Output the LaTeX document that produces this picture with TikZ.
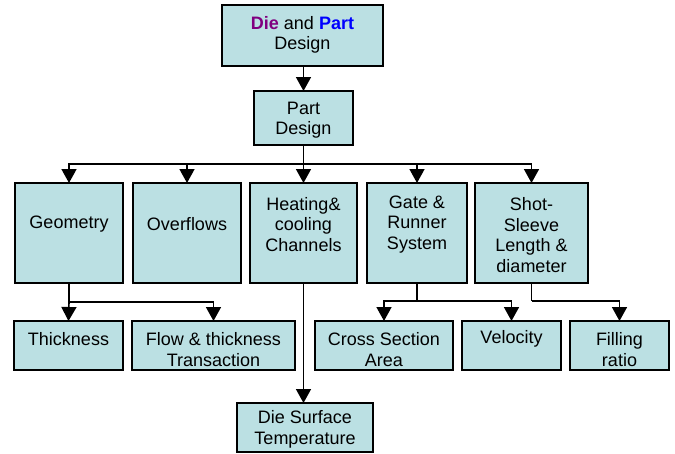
\documentclass[tikz,border=0pt]{standalone}
\usepackage{fontspec}
\setmainfont{Liberation Sans}
\usetikzlibrary{arrows.meta}
\definecolor{boxfill}{RGB}{187,224,227}
\definecolor{diecol}{RGB}{128,0,128}
\definecolor{partcol}{RGB}{0,0,255}
\newcommand\mkbox[5]{%
  \node[box, minimum width={#4-#2}, minimum height={#5-#3}] (#1) at ({(#2+#4)/2},{(#3+#5)/2}) {};}
\begin{document}
\begin{tikzpicture}[x=1pt,y=-1pt,
  box/.style={draw=black, fill=boxfill, line width=1.3pt, inner sep=0pt, outer sep=0pt},
  txt/.style={align=center, inner sep=0pt, font=\fontsize{18}{20.5}\selectfont},
  conn/.style={line width=1.6pt},
  arr/.style={conn, -{Triangle[width=15pt,length=14pt]}}]
\useasboundingbox (0,0) rectangle (675,453);

% boxes
\mkbox{top}{222}{5}{383}{66}
\mkbox{part}{254}{91}{353}{145}
\mkbox{geo}{15}{183}{123}{283}
\mkbox{over}{133}{183}{241}{283}
\mkbox{heat}{250}{183}{357}{283}
\mkbox{gate}{367}{183}{467}{283}
\mkbox{shot}{475}{183}{588}{283}
\mkbox{thick}{14}{321}{123}{370}
\mkbox{flow}{132}{321}{295}{370}
\mkbox{cross}{315}{321}{453}{370}
\mkbox{velo}{462}{321}{561}{370}
\mkbox{fill}{570}{321}{669}{370}
\mkbox{surf}{237}{403}{373}{452}

% labels
\node[txt] (top-t) at (302.5,35) {\textbf{\color{diecol}Die} and \textbf{\color{partcol}Part}\\Design};
\node[txt] (part-t) at (303.5,120) {Part\\Design};
\node[txt] (geo-t) at (69,224) {Geometry};
\node[txt] (over-t) at (187,224) {Overflows};
\node[txt] (heat-t) at (303.5,224.5) {Heating\&\\cooling\\Channels};
\node[txt] (gate-t) at (417,224.5) {Gate \&\\Runner\\System};
\node[txt] (shot-t) at (531.5,235) {Shot-\\Sleeve\\Length \&\\diameter};
\node[txt] (thick-t) at (68.5,339) {Thickness};
\node[txt] (flow-t) at (213.5,349.5) {Flow \& thickness\\Transaction};
\node[txt] (cross-t) at (384,349.5) {Cross Section\\Area};
\node[txt] (velo-t) at (511.5,339) {Velocity};
\node[txt] (fill-t) at (619.5,349.5) {Filling\\ratio};
\node[txt] (surf-t) at (305,429.5) {Die Surface\\Temperature};

% junction points
\coordinate (j1) at (303.5,164);
\coordinate (j2) at (69,302);
\coordinate (j3) at (417,301);
\coordinate (j4) at (531.5,301);

% connectors
\draw[arr] (top.south -| part.north) -- (part.north);
\draw[conn] (part.south) -- (j1);
\draw[arr] (j1) -| (geo.north);
\draw[arr] (j1) -| (over.north);
\draw[arr] (j1) -- (heat.north);
\draw[arr] (j1) -| (gate.north);
\draw[arr] (j1) -| (shot.north);
\draw[conn] (geo.south) -- (j2);
\draw[arr] (j2) -- (thick.north);
\draw[arr] (j2) -| (flow.north);
\draw[arr] (heat.south) -- (heat.south |- surf.north);
\draw[conn] (gate.south) -- (j3);
\draw[arr] (j3) -| (cross.north);
\draw[arr] (j3) -| (velo.north);
\draw[conn] (shot.south) -- (j4);
\draw[arr] (j4) -| (fill.north);
\end{tikzpicture}
\end{document}
